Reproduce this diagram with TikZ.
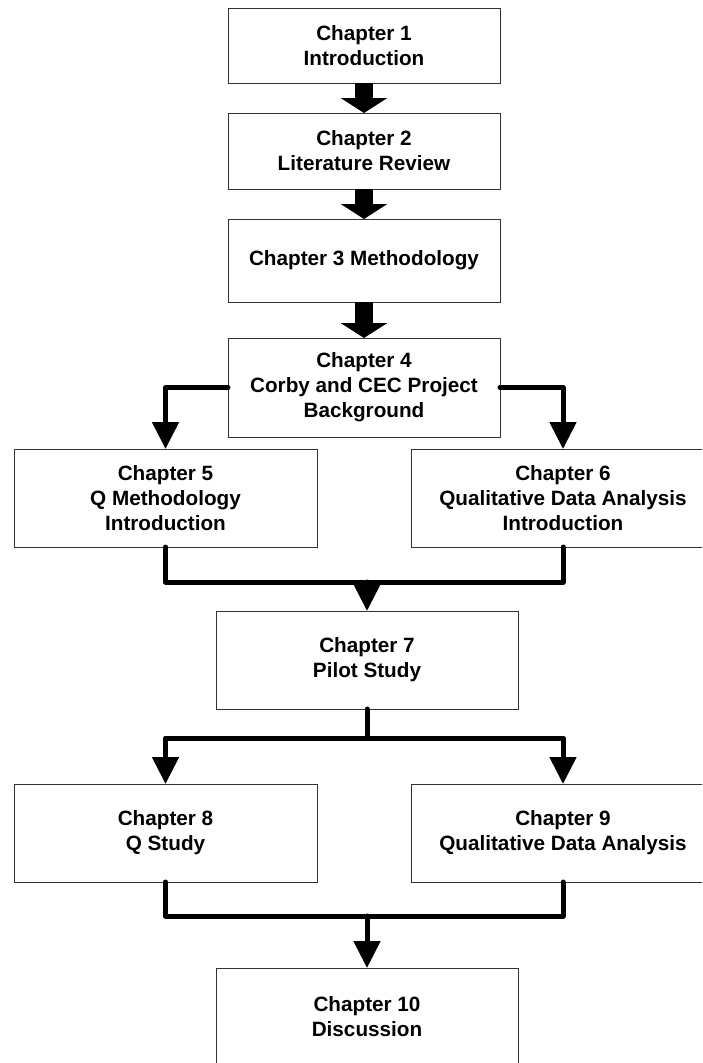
\documentclass[tikz,border=0pt]{standalone}
\usepackage{fontspec}
\setmainfont{Liberation Sans}
\usetikzlibrary{arrows.meta}
\begin{document}
\begin{tikzpicture}[x=1pt,y=-1pt,
  chapbox/.style={draw=black!80, line width=1pt, fill=white, rectangle,
    inner sep=0pt, outer sep=0pt, align=center,
    font=\bfseries\fontsize{20.7}{25}\selectfont},
  bigarrow/.style={line width=18pt, -{Triangle[width=46pt,length=15pt]}},
  link/.style={line width=5pt, line cap=round, line join=round},
  linkarrow/.style={link, -{Triangle[width=26pt,length=27pt]}},
]
\useasboundingbox (0,0) rectangle (702,1063);
\fill[white] (0,0) rectangle (702,1063);
\clip (0,0) rectangle (702,1063);

% chapter boxes
\node[chapbox, minimum width=272pt, minimum height=75pt] (ch1) at (364,45.5) {Chapter 1\\Introduction};
\node[chapbox, minimum width=272pt, minimum height=76pt] (ch2) at (364,151) {Chapter 2\\Literature Review};
\node[chapbox, minimum width=272pt, minimum height=83pt] (ch3) at (364,260.5) {Chapter 3 Methodology};
\node[chapbox, minimum width=272pt, minimum height=99pt] (ch4) at (364,387.5) {Chapter 4\\Corby and CEC Project\\Background};
\node[chapbox, minimum width=303pt, minimum height=98pt] (ch5) at (165.5,498) {Chapter 5\\Q Methodology\\Introduction};
\node[chapbox, minimum width=304pt, minimum height=98pt] (ch6) at (563,498) {Chapter 6\\Qualitative Data Analysis\\Introduction};
\node[chapbox, minimum width=302pt, minimum height=98pt] (ch7) at (367,660) {Chapter 7\\Pilot Study};
\node[chapbox, minimum width=303pt, minimum height=98pt] (ch8) at (165.5,833) {Chapter 8\\Q Study};
\node[chapbox, minimum width=304pt, minimum height=98pt] (ch9) at (563,833) {Chapter 9\\Qualitative Data Analysis};
\node[chapbox, minimum width=302pt, minimum height=98pt] (ch10) at (367,1017) {Chapter 10\\Discussion};

% junction points of the joining lines
\coordinate (j1) at (367,582);
\coordinate (j2) at (367,738);
\coordinate (j3) at (367,916);

% straight sequence
\draw[bigarrow] (ch1.south) -- (ch2.north);
\draw[bigarrow] (ch2.south) -- (ch3.north);
\draw[bigarrow] (ch3.south) -- (ch4.north);

% split after chapter 4
\draw[linkarrow] (ch4.west) -| (ch5.north);
\draw[linkarrow] (ch4.east) -| (ch6.north);

% merge into chapter 7
\draw[link] (ch5.south) |- (j1) -| (ch6.south);
\draw[linkarrow] (j1) -- (ch7.north);

% split after chapter 7
\draw[link] (ch7.south) -- (j2);
\draw[linkarrow] (j2) -| (ch8.north);
\draw[linkarrow] (j2) -| (ch9.north);

% merge into chapter 10
\draw[link] (ch8.south) |- (j3) -| (ch9.south);
\draw[linkarrow] (j3) -- (ch10.north);
\end{tikzpicture}
\end{document}
